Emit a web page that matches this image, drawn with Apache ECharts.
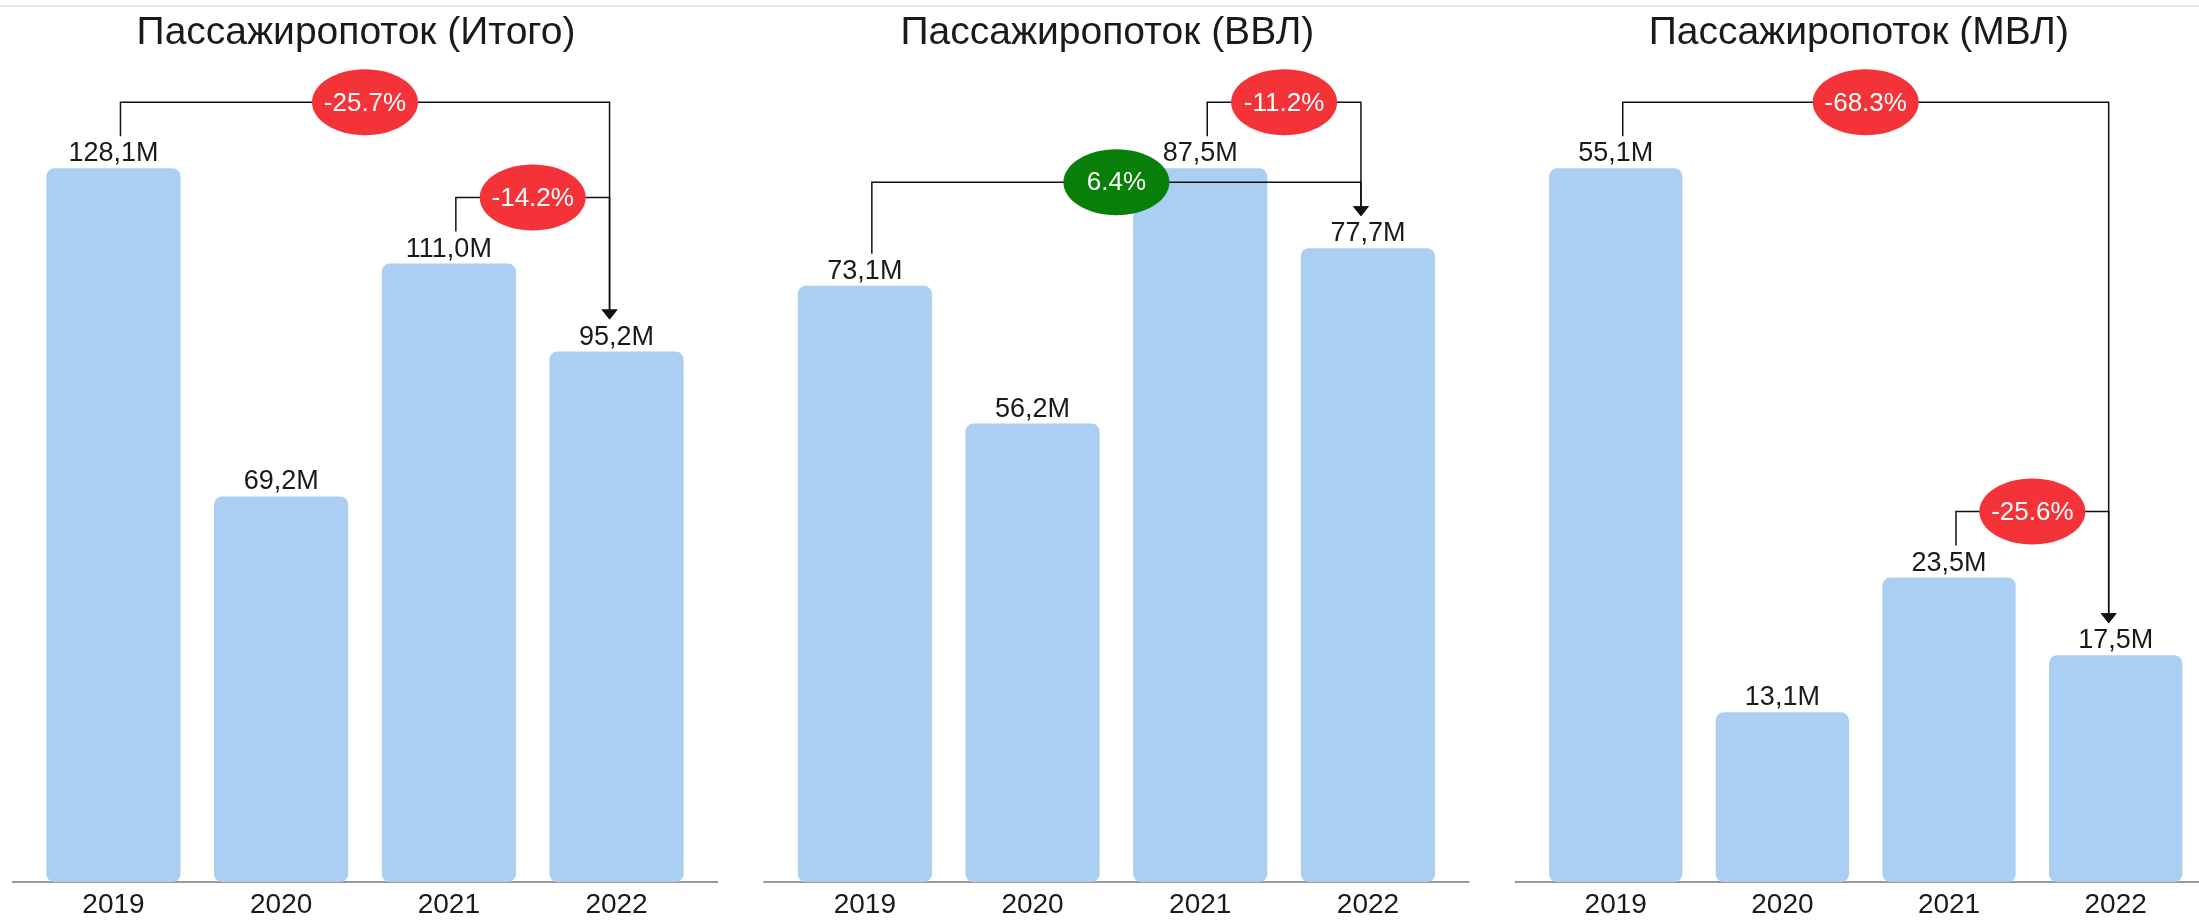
<!DOCTYPE html>
<html>
<head>
<meta charset="utf-8">
<script src="https://cdn.jsdelivr.net/npm/echarts@6/dist/echarts.min.js"></script>
<style>
  html, body { margin: 0; padding: 0; background: #fff; }
  #chart { width: 2199px; height: 923px; }
</style>
</head>
<body>
<div id="chart"></div>
<script>
var myChart = echarts.init(document.getElementById('chart'));

// данные
var years = ['2019', '2020', '2021', '2022'];
var titles = ['Пассажиропоток (Итого)', 'Пассажиропоток (ВВЛ)', 'Пассажиропоток (МВЛ)'];
var totalValues = [128.1, 69.2, 111.0, 95.2];
var domesticValues = [73.1, 56.2, 87.5, 77.7];
var intlValues = [55.1, 13.1, 23.5, 17.5];
// пары сравнения (индексы годов) и подписи процентов
var totalLinks = [[0, 3], [2, 3]];
var totalPct = ['-25.7%', '-14.2%'];
var domesticLinks = [[0, 3], [2, 3]];
var domesticPct = ['6.4%', '-11.2%'];
var intlLinks = [[0, 3], [2, 3]];
var intlPct = ['-68.3%', '-25.6%'];

var FONT = '"Liberation Sans", Arial, sans-serif';
var panelW = 751.4;
var axisY = 882;

var panels = [
    { values: totalValues, links: totalLinks, pct: totalPct },
    { values: domesticValues, links: domesticLinks, pct: domesticPct },
    { values: intlValues, links: intlLinks, pct: intlPct }
];

// стрелки и кружки с процентами
function makeRender(values, links, pct) {
    return function (params, api) {
        var i = params.dataIndex;
        var a = links[i][0], b = links[i][1];
        var pa = api.coord([a, values[a]]);
        var pb = api.coord([b, values[b]]);
        var xa = pa[0] + 7, xb = pb[0] - 7;
        var yTop = Math.min(pa[1], pb[1]) - 66;
        var ya = pa[1] - 32, yb = pb[1] - 32;
        var cx = (xa + xb) / 2;
        var color = pct[i].charAt(0) === '-' ? '#f43338' : '#087f08';
        return {
            type: 'group',
            children: [
                {
                    type: 'polyline',
                    shape: { points: [[xa, ya], [xa, yTop], [xb, yTop], [xb, yb - 9]] },
                    style: { stroke: '#111', lineWidth: 1.5, fill: null }
                },
                {
                    type: 'polygon',
                    shape: { points: [[xb - 8, yb - 10], [xb + 8, yb - 10], [xb, yb]] },
                    style: { fill: '#111' }
                },
                {
                    type: 'ellipse',
                    shape: { cx: cx, cy: yTop, rx: 53, ry: 33 },
                    style: { fill: color }
                },
                {
                    type: 'text',
                    style: {
                        text: pct[i], x: cx, y: yTop + 1,
                        align: 'center', verticalAlign: 'middle',
                        fill: '#fff', font: '26px ' + FONT
                    }
                }
            ]
        };
    };
}

var option = {
    animation: false,
    backgroundColor: '#fff',
    title: [],
    grid: [],
    xAxis: [],
    yAxis: [],
    series: [],
    graphic: [{
        type: 'line',
        shape: { x1: 0, y1: 6, x2: 2199, y2: 6 },
        style: { stroke: '#e6e6e6', lineWidth: 2 }
    }]
};

panels.forEach(function (p, k) {
    var x0 = k * panelW;
    option.title.push({
        text: titles[k],
        left: x0 + 351,
        top: 9,
        textAlign: 'center',
        textStyle: { fontFamily: FONT, fontSize: 39, fontWeight: 'normal', color: '#1a1a1a' }
    });
    option.grid.push({
        left: x0 + 29.6,
        width: 670.8,
        top: 25.6,
        height: axisY - 25.6
    });
    option.xAxis.push({
        type: 'category',
        gridIndex: k,
        data: years,
        axisLine: { show: false },
        axisTick: { show: false },
        axisLabel: { margin: 9, fontFamily: FONT, fontSize: 28, color: '#1a1a1a' }
    });
    option.yAxis.push({
        type: 'value',
        gridIndex: k,
        min: 0,
        max: function (v) { return v.max * 1.2; },
        show: false,
        splitLine: { show: false }
    });
    option.series.push({
        type: 'bar',
        xAxisIndex: k,
        yAxisIndex: k,
        data: p.values,
        barCategoryGap: '20%',
        itemStyle: { color: '#abcff2', borderRadius: 8 },
        label: {
            show: true,
            position: 'top',
            distance: 1,
            fontFamily: FONT,
            fontSize: 27,
            color: '#1a1a1a',
            formatter: function (d) { return d.value.toFixed(1).replace('.', ',') + 'M'; }
        }
    });
    option.series.push({
        type: 'custom',
        xAxisIndex: k,
        yAxisIndex: k,
        data: p.links,
        encode: { x: 0, y: 1 },
        z: 5,
        renderItem: makeRender(p.values, p.links, p.pct)
    });
    option.graphic.push({
        type: 'line',
        shape: { x1: x0 + 12, y1: axisY, x2: x0 + 718, y2: axisY },
        style: { stroke: '#9a9a9a', lineWidth: 2 }
    });
});

myChart.setOption(option);
</script>
</body>
</html>
